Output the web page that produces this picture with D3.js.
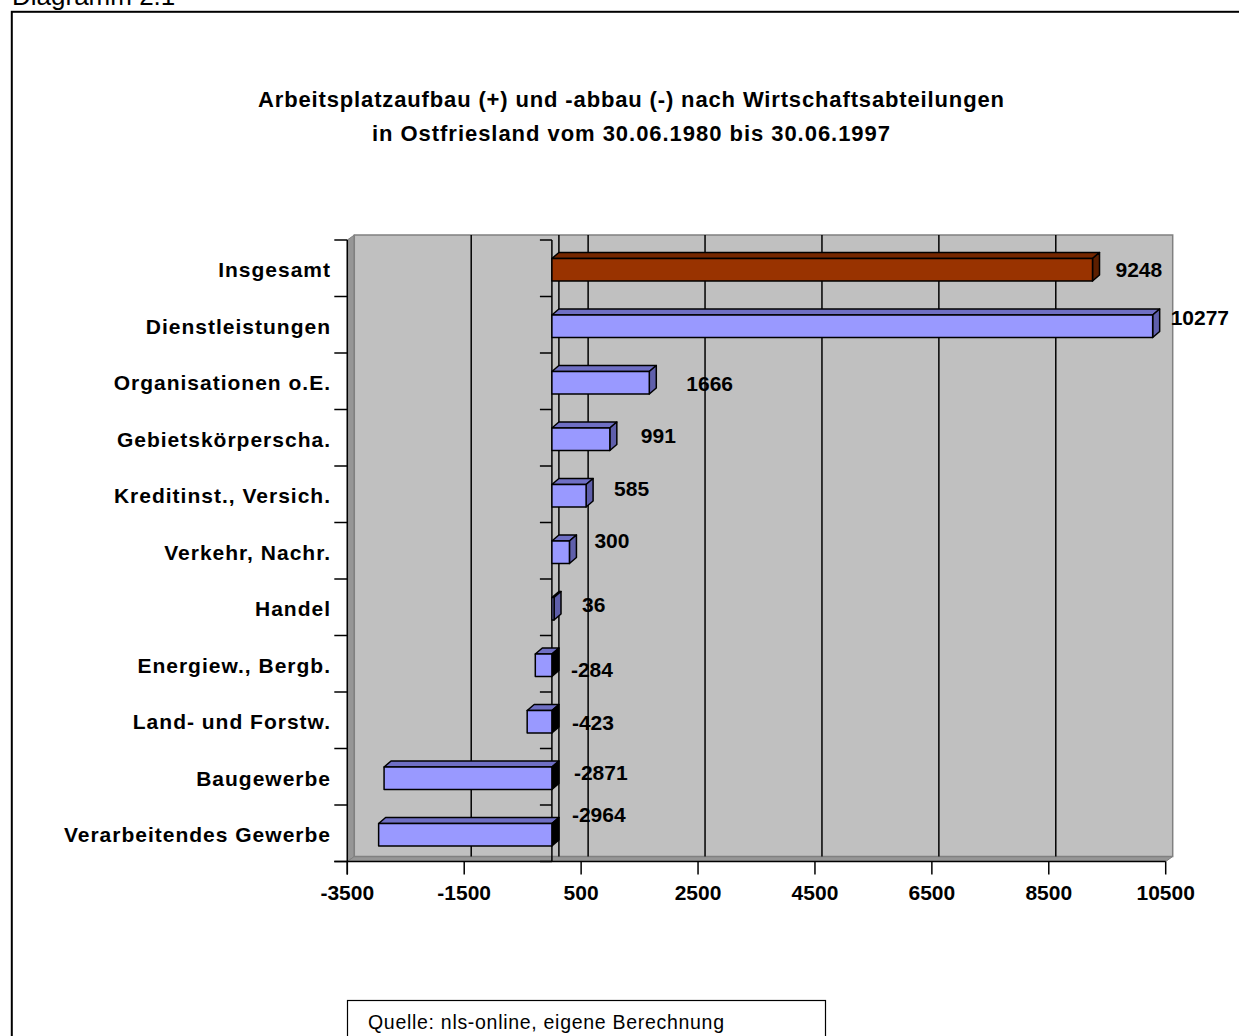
<!DOCTYPE html>
<html>
<head>
<meta charset="utf-8">
<script src="https://cdn.jsdelivr.net/npm/d3@7/dist/d3.min.js"></script>
<style>
  html, body { margin: 0; padding: 0; background: #ffffff; }
  svg { display: block; }
  text { font-family: Arial, "Liberation Sans", sans-serif; fill: #000; }
</style>
</head>
<body>
<svg id="chart" width="1239" height="1036"></svg>
<script>
// Branches of the economy, top to bottom
const categories = [
  "Insgesamt",
  "Dienstleistungen",
  "Organisationen o.E.",
  "Gebietskörperscha.",
  "Kreditinst., Versich.",
  "Verkehr, Nachr.",
  "Handel",
  "Energiew., Bergb.",
  "Land- und Forstw.",
  "Baugewerbe",
  "Verarbeitendes Gewerbe"
];
// Change in jobs 30.06.1980 -> 30.06.1997
const values = [9248, 10277, 1666, 991, 585, 300, 36, -284, -423, -2871, -2964];
// Value axis ticks
const tickValues = [-3500, -1500, 500, 2500, 4500, 6500, 8500, 10500];

const titleLines = [
  "Arbeitsplatzaufbau (+) und -abbau (-) nach Wirtschaftsabteilungen",
  "in Ostfriesland vom 30.06.1980 bis 30.06.1997"
];
const sourceText = "Quelle: nls-online, eigene Berechnung";
const captionText = "Diagramm 2.1";

// Data-label placement tweaks [dx from bar end, dy from row centre], px
const labelNudge = [
  [23, 8.5], [18, 0.5], [37, 10], [31, 5.5], [28, 2], [25, -2.5],
  [28, 4.5], [19, 13.5], [20, 9.5], [22, 3.5], [20, -11.5]
];

const svg = d3.select("#chart");

// Layout of the plot box (front plane)
const plot = { left: 347.3, right: 1165.7, top: 240, bottom: 861.5 };
const wallDx = 7, wallDy = -5;   // oblique depth of walls
const barDx = 7, barDy = -6;     // oblique depth of bars
const barH = 22.5;

const x = d3.scaleLinear().domain([-3500, 10500]).range([plot.left, plot.right]);
const y = d3.scaleBand().domain(categories).range([plot.top, plot.bottom]).padding(0);

// Outer frame and caption
svg.append("rect")
  .attr("x", 11.8).attr("y", 11.8).attr("width", 1400).attr("height", 1200)
  .attr("fill", "none").attr("stroke", "#000").attr("stroke-width", 2);
svg.append("text")
  .attr("x", 12).attr("y", 4.5)
  .attr("font-size", 26)
  .text(captionText);

// Title
const titleWidths = [746, 518];
svg.append("g").selectAll("text").data(titleLines).join("text")
  .attr("x", 631).attr("y", (d, i) => 107 + i * 33.5)
  .attr("text-anchor", "middle")
  .attr("font-size", 22).attr("font-weight", "bold")
  .attr("textLength", (d, i) => titleWidths[i])
  .attr("lengthAdjust", "spacing")
  .text(d => d);

// Walls
const walls = svg.append("g");
// left side wall
walls.append("polygon")
  .attr("points", [
    [plot.left, plot.top], [plot.left + wallDx, plot.top + wallDy],
    [plot.left + wallDx, plot.bottom + wallDy], [plot.left, plot.bottom]
  ].join(" "))
  .attr("fill", "#969696").attr("stroke", "#808080").attr("stroke-width", 1);
// floor
walls.append("polygon")
  .attr("points", [
    [plot.left, plot.bottom], [plot.left + wallDx, plot.bottom + wallDy],
    [plot.right + wallDx, plot.bottom + wallDy], [plot.right, plot.bottom]
  ].join(" "))
  .attr("fill", "#969696").attr("stroke", "#808080").attr("stroke-width", 1);
// back wall
walls.append("rect")
  .attr("x", plot.left + wallDx).attr("y", plot.top + wallDy)
  .attr("width", plot.right - plot.left).attr("height", plot.bottom - plot.top)
  .attr("fill", "#c0c0c0").attr("stroke", "#808080").attr("stroke-width", 1.5);

// Gridlines on the back wall
walls.selectAll("line.grid")
  .data(tickValues.filter(v => v > -3500 && v < 10500).concat([0]))
  .join("line").attr("class", "grid")
  .attr("x1", d => x(d) + wallDx).attr("x2", d => x(d) + wallDx)
  .attr("y1", plot.top + wallDy).attr("y2", plot.bottom + wallDy)
  .attr("stroke", "#000").attr("stroke-width", 1.5);

// Category axis at the left edge with ticks between rows
const boundaries = d3.range(categories.length + 1).map(i => plot.top + i * y.step());
const axes = svg.append("g").attr("stroke", "#000").attr("stroke-width", 1.5);
axes.append("line")
  .attr("x1", plot.left).attr("x2", plot.left)
  .attr("y1", plot.top).attr("y2", plot.bottom + 13);
axes.selectAll("line.ltick").data(boundaries).join("line").attr("class", "ltick")
  .attr("x1", plot.left - 13).attr("x2", plot.left)
  .attr("y1", d => d).attr("y2", d => d);

// Category axis crossing at zero
axes.append("line")
  .attr("x1", x(0)).attr("x2", x(0))
  .attr("y1", plot.top).attr("y2", plot.bottom);
axes.selectAll("line.ztick").data(boundaries).join("line").attr("class", "ztick")
  .attr("x1", x(0) - 12).attr("x2", x(0))
  .attr("y1", d => d).attr("y2", d => d);

// Bars (3D boxes)
const palette = i => i === 0
  ? { front: "#993300", top: "#752700", side: "#5c1f00" }
  : { front: "#9999ff", top: "#6f6fc4", side: "#5f5fab" };

const bars = svg.append("g");
categories.forEach((c, i) => {
  const v = values[i];
  const x0 = x(Math.min(0, v)), x1 = x(Math.max(0, v));
  const yT = y(c) + y.bandwidth() / 2 + 1.5 - barH / 2;
  const yB = yT + barH;
  const col = palette(i);
  const g = bars.append("g").attr("stroke", "#000").attr("stroke-width", 1.5)
    .attr("stroke-linejoin", "round");
  g.append("polygon")
    .attr("points", [[x0, yT], [x0 + barDx, yT + barDy], [x1 + barDx, yT + barDy], [x1, yT]].join(" "))
    .attr("fill", col.top);
  g.append("polygon")
    .attr("points", [[x1, yT], [x1 + barDx, yT + barDy], [x1 + barDx, yB + barDy], [x1, yB]].join(" "))
    .attr("fill", v < 0 ? "#000" : col.side);
  g.append("rect")
    .attr("x", x0).attr("y", yT).attr("width", x1 - x0).attr("height", barH)
    .attr("fill", col.front);
});

// Value axis
const xAxis = svg.append("g");
xAxis.append("line")
  .attr("x1", plot.left - 13).attr("x2", plot.right)
  .attr("y1", plot.bottom).attr("y2", plot.bottom)
  .attr("stroke", "#000").attr("stroke-width", 1.5);
xAxis.selectAll("line.tick").data(tickValues).join("line").attr("class", "tick")
  .attr("x1", d => x(d)).attr("x2", d => x(d))
  .attr("y1", plot.bottom).attr("y2", plot.bottom + 13)
  .attr("stroke", "#000").attr("stroke-width", 1.5);
xAxis.selectAll("text").data(tickValues).join("text")
  .attr("x", d => x(d)).attr("y", 900)
  .attr("text-anchor", "middle")
  .attr("font-size", 21).attr("font-weight", "bold")
  .text(d => d);

// Category labels
svg.append("g").selectAll("text").data(categories).join("text")
  .attr("x", 331).attr("y", d => y(d) + y.bandwidth() / 2 + 9)
  .attr("text-anchor", "end")
  .attr("font-size", 21).attr("font-weight", "bold")
  .attr("letter-spacing", 1)
  .text(d => d);

// Data labels
svg.append("g").selectAll("text").data(values).join("text")
  .attr("x", (d, i) => x(Math.max(0, d)) + labelNudge[i][0])
  .attr("y", (d, i) => y(categories[i]) + y.bandwidth() / 2 + labelNudge[i][1])
  .attr("font-size", 21).attr("font-weight", "bold")
  .text(d => d);

// Source box
svg.append("rect")
  .attr("x", 347.5).attr("y", 1000.5).attr("width", 478).attr("height", 80)
  .attr("fill", "#fff").attr("stroke", "#000").attr("stroke-width", 1.2);
svg.append("text")
  .attr("x", 368).attr("y", 1029)
  .attr("font-size", 19.5)
  .attr("textLength", 356).attr("lengthAdjust", "spacing")
  .text(sourceText);
</script>
</body>
</html>
